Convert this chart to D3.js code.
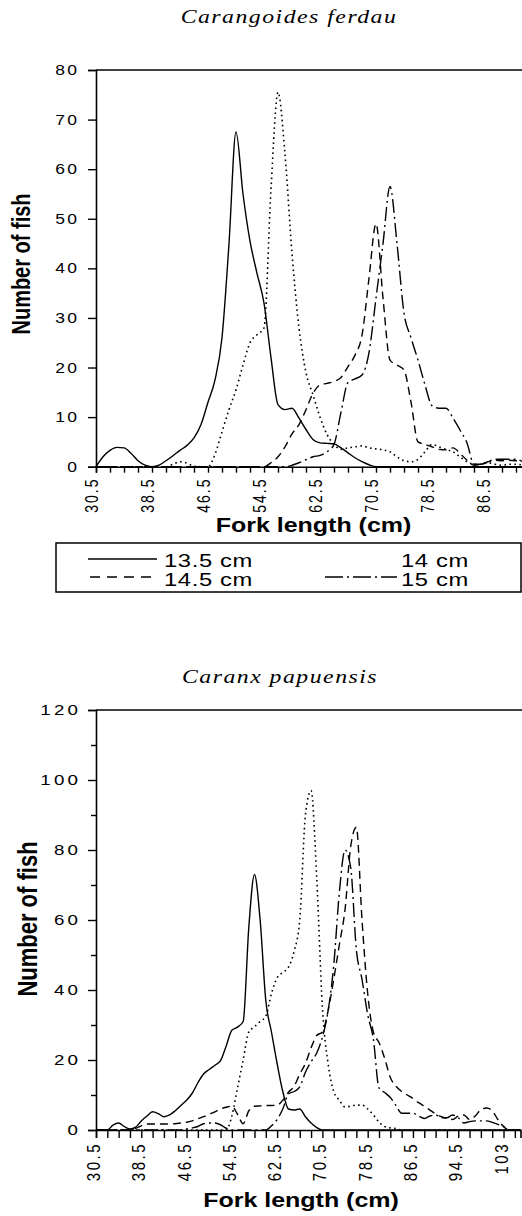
<!DOCTYPE html>
<html><head><meta charset="utf-8">
<script src="https://cdn.jsdelivr.net/npm/d3@7"></script>
<style>html,body{margin:0;padding:0;background:#fff;}svg{display:block;}</style>
</head><body>
<svg id="c" width="522" height="1216" xmlns="http://www.w3.org/2000/svg"></svg>
<script>
// ---------------- DATA ----------------
// Chart 1: Carangoides ferdau
const title1 = "Carangoides ferdau";
const cats1 = [30.5,31.5,32.5,33.5,34.5,35.5,36.5,37.5,38.5,39.5,40.5,41.5,42.5,43.5,44.5,45.5,46.5,47.5,48.5,49.5,
  50.5,51.5,52.5,53.5,54.5,55.5,56.5,57.5,58.5,59.5,60.5,61.5,62.5,63.5,64.5,65.5,66.5,67.5,68.5,69.5,
  70.5,71.5,72.5,73.5,74.5,75.5,76.5,77.5,78.5,79.5,80.5,81.5,82.5,83.5,84.5,85.5,86.5,87.5,88.5,89.5,90.5,91.5];
const c1_135 = [0,2,3.3,3.9,3.8,2.7,1.2,0.3,0,0.3,1.2,2.2,3.3,4.3,5.8,8.5,13,17.5,26,45,
  67.5,55,45.5,39,33,22,12.5,11.5,11.8,9.8,7.5,5.5,4.8,4.7,4.6,3.8,2.8,1.8,1,0.4,
  0,0,0,0,0,0,0,0,0,0,0,0,0,0,0,0,0,0,0,0,0,0];
const c1_14 = [0,0,0,0,0,0,0,0,0,0,0,0.5,1,0.7,0.1,0,0,2.5,7,11.5,
  15.5,20.5,25,26.6,28,56,75.5,63,43,28,19,14.5,10,6.5,4.5,3.5,3.8,4,4.2,3.8,
  3.6,3.4,3,2,1.2,1,1.5,3,4.5,4,3.5,3,2,1,0.5,0.5,0.8,0.5,0.3,0.5,0.5,0.3];
const c1_145 = [0,0,0,0,0,0,0,0,0,0,0,0,0,0,0,0,0,0,0,0,
  0,0,0,0,0,0.8,2,4,6.6,8.5,11.5,14.8,16.5,16.8,17.2,18,20.2,22.5,26.5,38,
  49,34,21.5,20.5,19.5,13,5,4.5,4,3.5,3.4,3.8,2.7,1.3,0.3,0.5,1,1.3,1.2,1.3,1.2,1];
const c1_15 = [0,0,0,0,0,0,0,0,0,0,0,0,0,0,0,0,0,0,0,0,
  0,0,0,0,0,0,0,0,0.3,0.8,1.4,2,2.3,3,4.5,11,17,17.7,18.5,23,
  34,45,56.5,45,31,26,21.5,16.5,12.3,11.8,11.8,9.8,7.4,4.8,0.5,0.5,1,1.5,1.5,1.5,1.5,1];
const xTicks1 = [30.5,32.5,34.5,36.5,38.5,40.5,42.5,44.5,46.5,48.5,50.5,52.5,54.5,56.5,58.5,60.5,62.5,64.5,66.5,68.5,
  70.5,72.5,74.5,76.5,78.5,80.5,82.5,84.5,86.5,88.5,90.5];
const xLabelVals1 = [30.5,38.5,46.5,54.5,62.5,70.5,78.5,86.5];
const xLabels1 = ["30.5","38.5","46.5","54.5","62.5","70.5","78.5","86.5"];
const yTicks1 = [0,10,20,30,40,50,60,70,80];
const yLabels1 = ["0","10","20","30","40","50","60","70","80"];
const legendNames = ["13.5 cm","14 cm","14.5 cm","15 cm"];

// Chart 2: Caranx papuensis
const title2 = "Caranx papuensis";
const cats2 = [30.5,31.5,32.5,33.5,34.5,35.5,36.5,37.5,38.5,39.5,40.5,41.5,42.5,43.5,44.5,45.5,46.5,47.5,48.5,49.5,
  50.5,51.5,52.5,53.5,54.5,55.5,56.5,57.5,58.5,59.5,60.5,61.5,62.5,63.5,64.5,65.5,66.5,67.5,68.5,69.5,
  70.5,71.5,72.5,73.5,74.5,75.5,76.5,77.5,78.5,79.5,80.5,81.5,82.5,83.5,84.5,85.5,86.5,87.5,88.5,89.5,
  90.5,91.5,92.5,93.5,94.5,95.5,96.5,97.5,98.5,99.5,100.5,101.5,102.5,103.5,104.5,105.5];
const c2_135 = [0,0,0,1.4,2,1,0.3,0.8,2.6,4,5.2,4.7,3.8,4.3,5.5,7,8.5,10.5,13.5,16,
  17.3,18.5,19.8,24,28.5,29.4,31,58,73,60,37,28,19,11,6,5.7,6,3.8,2,0.7,
  0,0,0,0,0,0,0,0,0,0,0,0,0,0,0,0,0,0,0,0,
  0,0,0,0,0,0,0,0,0,0,0,0,0,0,0,0];
const c2_14 = [0,0,0,0,0,0,0,0,0,0,0,0,0,0,0,0,0,0,0,0,
  0,0,0,0,4,12,20,28,29.5,31,32.5,39,43.5,45,46.5,51,60,90,97,72,
  35,19,11,8.5,6.6,6.8,7.1,7.1,6,4.3,2.3,1,0.6,0.4,0,0,0,0,0,0,
  0,0,0,0,0,0,0,0,0,0,0,0,0,0,0,0];
const c2_145 = [0,0,0,0,0,0,0,0.5,1.2,1.7,1.7,1.7,1.7,1.7,1.8,2,2.2,2.6,3.2,3.8,
  4.5,5.2,6,6.5,6.8,4.5,1.8,5.5,6.8,6.9,7,7,7.1,8.5,10.8,12.5,16,19,23.5,27,
  28,34,43,53,63,81,86.5,60,39,28,25,20.5,15,12.5,11,10,9,7.8,6.8,5.7,
  4.6,3.8,3.3,3,4,4.3,3,4,5.8,6.3,5.5,3,1,0,0,0];
const c2_15 = [0,0,0,0,0,0,0,0,0,0,0,0,0,0,0,0,0.3,0.6,1,1.8,
  2,2,1.5,0.5,0,0,0,0,0,0,0,1.2,3,6,10.3,11,12.3,16.5,19.5,22,
  26.5,34,47,68,80,75,51.5,43,33,26,12,10.7,9.3,7,4.8,4.8,4.8,4,3.3,4,
  4.3,3.5,3.5,4.3,3.5,2,2.4,2.6,2.6,2.6,2.2,1.6,1,0,0,0];
const xTicks2 = [30.5,32.5,34.5,36.5,38.5,40.5,42.5,44.5,46.5,48.5,50.5,52.5,54.5,56.5,58.5,60.5,62.5,64.5,66.5,68.5,
  70.5,72.5,74.5,76.5,78.5,80.5,82.5,84.5,86.5,88.5,90.5,92.5,94.5,96.5,98.5,100.5,102.5,104.5];
const xLabelVals2 = [30.5,38.5,46.5,54.5,62.5,70.5,78.5,86.5,94.5,102.5];
const xLabels2 = ["30.5","38.5","46.5","54.5","62.5","70.5","78.5","86.5","94.5","103"];
const yTicks2 = [0,10,20,30,40,50,60,70,80,90,100,110,120];
const yLabelVals2 = [0,20,40,60,80,100,120];
const yLabels2 = ["0","20","40","60","80","100","120"];

const xTitle = "Fork length (cm)";
const yTitle = "Number of fish";

// ---------------- DRAWING ----------------
const svg = d3.select("#c");
const SANS = "'Liberation Sans', Arial, sans-serif";
const SERIF = "'Liberation Serif', 'Times New Roman', serif";
const STYLES = [
  {dash: null, w: 1.4},
  {dash: "1.6,3.4", w: 1.6},
  {dash: "8,5", w: 1.4},
  {dash: "14,4,2,4", w: 1.4}
];

function txt(g, x, y, s, o) {
  return g.append("text")
    .attr("transform", `translate(${x},${y}) scale(${o.sx || 1.25},1)` + (o.rot ? ` rotate(${o.rot})` : ""))
    .attr("font-family", o.family || SANS)
    .attr("font-size", o.size)
    .attr("font-weight", o.weight || "normal")
    .attr("font-style", o.style || "normal")
    .attr("text-anchor", o.anchor || "start")
    .attr("letter-spacing", o.ls || 0)
    .attr("fill", "#000")
    .text(s);
}

function chart(cfg) {
  const g = svg.append("g");
  const x = d3.scaleLinear().domain(cfg.xDomain).range(cfg.xRange);
  const y = d3.scaleLinear().domain([0, cfg.yMax]).range(cfg.yRange);

  // title
  txt(g, cfg.titlePos[0], cfg.titlePos[1], cfg.title,
      {size: 19, family: SERIF, style: "italic", anchor: "middle", ls: 1.2});

  // series
  const line = d3.line().x((d, i) => x(cfg.cats[i])).y(d => y(d)).curve(d3.curveMonotoneX);
  cfg.series.forEach((s, k) => {
    g.append("path").datum(s).attr("d", line)
      .attr("fill", "none").attr("stroke", "#000")
      .attr("stroke-width", STYLES[k].w)
      .attr("stroke-dasharray", STYLES[k].dash)
      .attr("stroke-linejoin", "round");
  });

  // axes
  const x0 = cfg.xRange[0];
  const ax = d3.axisLeft(y).tickValues(cfg.yTicks).tickSizeOuter(0).tickFormat("")
    .tickSize(8);
  const ga = g.append("g").attr("transform", `translate(${x0},0)`).call(ax);
  if (cfg.minorY) {
    ga.selectAll(".tick line").attr("x2", d => cfg.yLabelVals.includes(d) ? -8 : -5);
  }
  const bx = d3.axisBottom(x).tickValues(cfg.xTicks).tickSizeOuter(0).tickFormat("")
    .tickSize(cfg.xTickLen);
  const gb = g.append("g").attr("transform", `translate(0,${y(0)})`).call(bx);
  [ga, gb].forEach(a => {
    a.select(".domain").attr("stroke", "#000").attr("stroke-width", 1.6);
    a.selectAll(".tick line").attr("stroke", "#000").attr("stroke-width", 1.4);
  });
  // plot frame top
  g.append("line").attr("x1", x0).attr("x2", 522).attr("y1", y(cfg.yMax)).attr("y2", y(cfg.yMax))
    .attr("stroke", "#000").attr("stroke-width", 1.6);

  // y tick labels
  cfg.yLabelVals.forEach((v, i) => {
    txt(g, cfg.yLabX, y(v) + 0.358 * cfg.tickFont, cfg.yLabels[i],
        {size: cfg.tickFont, anchor: "end", ls: cfg.tickLs});
  });
  // x tick labels (rotated)
  cfg.xLabelVals.forEach((v, i) => {
    txt(g, x(v) + cfg.xLabDx, cfg.xLabY, cfg.xLabels[i],
        {size: cfg.tickFont, anchor: "end", ls: cfg.tickLs, rot: -90});
  });
  // axis titles
  txt(g, cfg.xTitlePos[0], cfg.xTitlePos[1], xTitle, {size: 20, weight: "bold", anchor: "middle"});
  txt(g, cfg.yTitlePos[0], cfg.yTitlePos[1], yTitle, {size: cfg.yTitleSize, weight: "bold", anchor: "middle", rot: -90});
  return g;
}

chart({
  title: title1, titlePos: [289, 23],
  cats: cats1, series: [c1_135, c1_14, c1_145, c1_15],
  xDomain: [30.5, 91.5], xRange: [96, 523],
  yMax: 80, yRange: [466.7, 70],
  xTicks: xTicks1, xTickLen: 6,
  yTicks: yTicks1, yLabelVals: yTicks1, yLabels: yLabels1,
  xLabelVals: xLabelVals1, xLabels: xLabels1,
  tickFont: 14, tickLs: 2, yLabX: 79.6, xLabDx: 2, xLabY: 477.5,
  xTitlePos: [313.5, 532], yTitlePos: [30, 264], yTitleSize: 20
});

chart({
  title: title2, titlePos: [280, 683],
  cats: cats2, series: [c2_135, c2_14, c2_145, c2_15],
  xDomain: [30.5, 105.5], xRange: [96, 96 + 5.66 * 75],
  yMax: 120, yRange: [1130, 710],
  xTicks: xTicks2, xTickLen: 8,
  yTicks: yTicks2, yLabelVals: yLabelVals2, yLabels: yLabels2, minorY: true,
  xLabelVals: xLabelVals2, xLabels: xLabels2,
  tickFont: 15, tickLs: 2.5, yLabX: 81, xLabDx: 4, xLabY: 1142,
  xTitlePos: [301, 1207], yTitlePos: [37, 919], yTitleSize: 22
});

// legend (chart 1)
const lg = svg.append("g");
lg.append("rect").attr("x", 56).attr("y", 543).attr("width", 465).attr("height", 49)
  .attr("fill", "none").attr("stroke", "#000").attr("stroke-width", 1.5);
const legendLayout = [
  {lx1: 88, lx2: 157, ly: 559, tx: 164, ty: 567},
  {lx1: 325, lx2: 397, ly: 559, tx: 401, ty: 567},
  {lx1: 90, lx2: 155, ly: 577, tx: 164, ty: 586},
  {lx1: 325, lx2: 397, ly: 577, tx: 401, ty: 586}
];
const legendDash = [null, "1,4", "10,7", "18,4,2,4"];
legendNames.forEach((n, k) => {
  const L = legendLayout[k];
  lg.append("line").attr("x1", L.lx1).attr("x2", L.lx2).attr("y1", L.ly).attr("y2", L.ly)
    .attr("stroke", "#000").attr("stroke-width", k === 1 ? 0.5 : 1.3)
    .attr("stroke-opacity", k === 1 ? 0.1 : 1)
    .attr("stroke-dasharray", legendDash[k]);
  txt(lg, L.tx, L.ty, n, {size: 19, ls: 0.5});
});
</script>
</body></html>
